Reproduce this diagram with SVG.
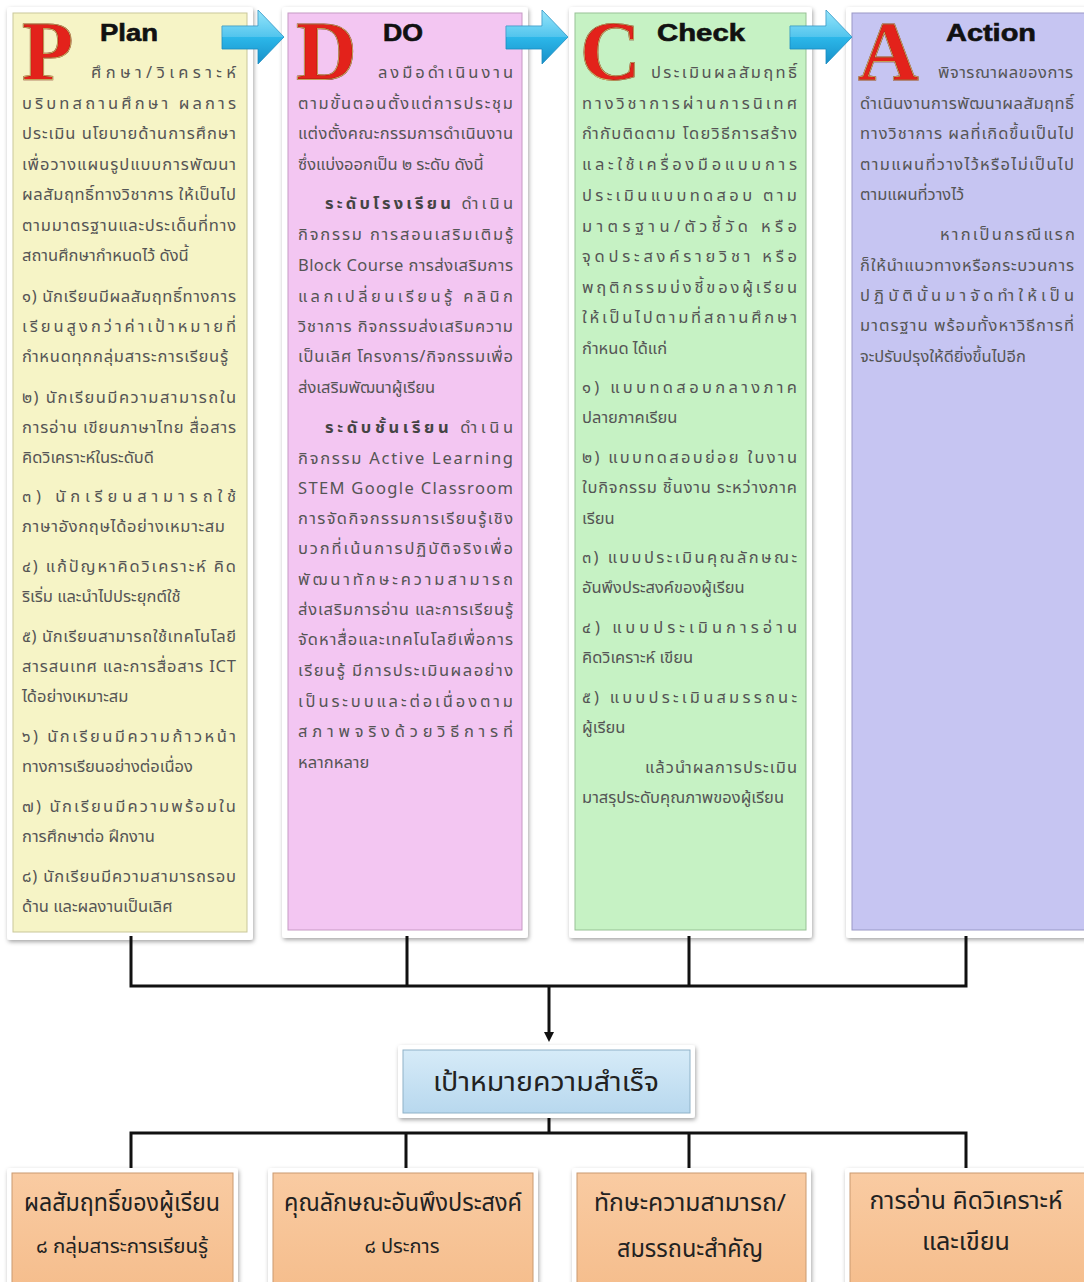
<svg xmlns="http://www.w3.org/2000/svg" width="1084" height="1282" viewBox="0 0 1084 1282">
<defs>
<style>
.t{font-family:"Noto Sans Thai","Noto Sans","DejaVu Sans",sans-serif;font-size:16.5px;fill:#555}
.b{font-weight:bold;fill:#444}
.hd{font-family:"Liberation Sans",Arial,sans-serif;font-weight:900;font-size:23px;fill:#111;stroke:#111;stroke-width:0.6}
.big{font-family:"Liberation Serif","Times New Roman",serif;font-size:84px;font-weight:bold;fill:#e3221b;stroke:#7a1410;stroke-width:1.2}
.bigl{font-family:"Liberation Serif","Times New Roman",serif;font-size:84px;font-weight:bold;fill:none;stroke:#d8c870;stroke-width:0.7}
.g{font-family:"Noto Sans Thai","Noto Sans","DejaVu Sans",sans-serif;fill:#222;text-anchor:middle}
.frame{fill:#fff;filter:url(#sh)}
.con{stroke:#111;stroke-width:3;fill:none}
</style>
<filter id="sh" x="-10%" y="-10%" width="120%" height="120%">
<feDropShadow dx="1" dy="2" stdDeviation="2" flood-color="#000" flood-opacity="0.35"/>
</filter>
<linearGradient id="arr" x1="0" y1="0" x2="0" y2="1">
<stop offset="0" stop-color="#7fe0fa"/><stop offset="0.5" stop-color="#2cb8ea"/><stop offset="1" stop-color="#1890c8"/>
</linearGradient>
<linearGradient id="goal" x1="0" y1="0" x2="0" y2="1">
<stop offset="0" stop-color="#d6ebf8"/><stop offset="1" stop-color="#b8d8ee"/>
</linearGradient>
<linearGradient id="peach" x1="0" y1="0" x2="0" y2="1">
<stop offset="0" stop-color="#f9cba2"/><stop offset="1" stop-color="#f5bd8c"/>
</linearGradient>
<radialGradient id="swoosh" cx="0.5" cy="0.2" r="0.6">
<stop offset="0.6" stop-color="#444"/><stop offset="1" stop-color="#ddd" stop-opacity="0"/>
</radialGradient>
<marker id="ah" markerWidth="10" markerHeight="10" refX="5" refY="5" orient="auto" markerUnits="userSpaceOnUse">
<path d="M0,0 L10,5 L0,10 z" fill="#111"/>
</marker>
<g id="arrowshape">
<path d="M0,26 L36,26 L36,10 L62,37 L36,64 L36,49 L0,49 z" fill="url(#arr)" stroke="#1a8cc0" stroke-width="0.8"/>
<path d="M0,26 L36,26 L36,10 L62,37 L0,37 z" fill="#fff" opacity="0.18"/>
</g>
</defs>
<rect width="1084" height="1282" fill="#fff"/>
<ellipse cx="945" cy="-14" rx="80" ry="22" fill="url(#swoosh)"/>

<g id="plan">
<rect class="frame" x="7" y="7" width="246" height="933" rx="3"/>
<rect x="13" y="13" width="234" height="919" fill="#f6f4c6" stroke="#c9c79a" stroke-width="1"/>
<text class="big" x="22" y="80">P</text>
<text class="bigl" x="22" y="80">P</text>
<text class="hd" x="100" y="41" textLength="58" lengthAdjust="spacingAndGlyphs">Plan</text>
<text class="t" x="91" y="78" textLength="145" lengthAdjust="spacing">ศึกษา/วิเคราะห์</text>
<text class="t" x="22" y="109" textLength="214" lengthAdjust="spacing">บริบทสถานศึกษา ผลการ</text>
<text class="t" x="22" y="139" textLength="214" lengthAdjust="spacing">ประเมิน นโยบายด้านการศึกษา</text>
<text class="t" x="22" y="170" textLength="214" lengthAdjust="spacing">เพื่อวางแผนรูปแบบการพัฒนา</text>
<text class="t" x="22" y="200" textLength="214" lengthAdjust="spacing">ผลสัมฤทธิ์ทางวิชาการ ให้เป็นไป</text>
<text class="t" x="22" y="231" textLength="214" lengthAdjust="spacing">ตามมาตรฐานและประเด็นที่ทาง</text>
<text class="t" x="22" y="261">สถานศึกษากำหนดไว้ ดังนี้</text>
<text class="t" x="22" y="302" textLength="214" lengthAdjust="spacing">๑) นักเรียนมีผลสัมฤทธิ์ทางการ</text>
<text class="t" x="22" y="332" textLength="214" lengthAdjust="spacing">เรียนสูงกว่าค่าเป้าหมายที่</text>
<text class="t" x="22" y="362" textLength="206" lengthAdjust="spacing">กำหนดทุกกลุ่มสาระการเรียนรู้</text>
<text class="t" x="22" y="403" textLength="214" lengthAdjust="spacing">๒) นักเรียนมีความสามารถใน</text>
<text class="t" x="22" y="433" textLength="214" lengthAdjust="spacing">การอ่าน เขียนภาษาไทย สื่อสาร</text>
<text class="t" x="22" y="463">คิดวิเคราะห์ในระดับดี</text>
<text class="t" x="22" y="502" textLength="214" lengthAdjust="spacing">๓) นักเรียนสามารถใช้</text>
<text class="t" x="22" y="532" textLength="203" lengthAdjust="spacing">ภาษาอังกฤษได้อย่างเหมาะสม</text>
<text class="t" x="22" y="572" textLength="214" lengthAdjust="spacing">๔) แก้ปัญหาคิดวิเคราะห์ คิด</text>
<text class="t" x="22" y="602">ริเริ่ม และนำไปประยุกต์ใช้</text>
<text class="t" x="22" y="642" textLength="214" lengthAdjust="spacing">๕) นักเรียนสามารถใช้เทคโนโลยี</text>
<text class="t" x="22" y="672" textLength="214" lengthAdjust="spacing">สารสนเทศ และการสื่อสาร ICT</text>
<text class="t" x="22" y="702">ได้อย่างเหมาะสม</text>
<text class="t" x="22" y="742" textLength="214" lengthAdjust="spacing">๖) นักเรียนมีความก้าวหน้า</text>
<text class="t" x="22" y="772">ทางการเรียนอย่างต่อเนื่อง</text>
<text class="t" x="22" y="812" textLength="214" lengthAdjust="spacing">๗) นักเรียนมีความพร้อมใน</text>
<text class="t" x="22" y="842">การศึกษาต่อ ฝึกงาน</text>
<text class="t" x="22" y="882" textLength="214" lengthAdjust="spacing">๘) นักเรียนมีความสามารถรอบ</text>
<text class="t" x="22" y="912">ด้าน และผลงานเป็นเลิศ</text>
</g>

<g id="do">
<rect class="frame" x="282" y="7" width="246" height="931" rx="3"/>
<rect x="288" y="13" width="234" height="917" fill="#f3c6f2" stroke="#c69ac4" stroke-width="1"/>
<text class="big" x="296" y="80">D</text>
<text class="bigl" x="296" y="80">D</text>
<text class="hd" x="383" y="41" textLength="40" lengthAdjust="spacingAndGlyphs">DO</text>
<text class="t" x="378" y="78" textLength="135" lengthAdjust="spacing">ลงมือดำเนินงาน</text>
<text class="t" x="298" y="109" textLength="215" lengthAdjust="spacing">ตามขั้นตอนตั้งแต่การประชุม</text>
<text class="t" x="298" y="139" textLength="215" lengthAdjust="spacing">แต่งตั้งคณะกรรมการดำเนินงาน</text>
<text class="t" x="298" y="170">ซึ่งแบ่งออกเป็น  ๒ ระดับ ดังนี้</text>
<text class="t" x="325" y="209" textLength="188" lengthAdjust="spacing"><tspan class="b">ระดับโรงเรียน</tspan> ดำเนิน</text>
<text class="t" x="298" y="240" textLength="215" lengthAdjust="spacing">กิจกรรม การสอนเสริมเติมรู้</text>
<text class="t" x="298" y="271" textLength="215" lengthAdjust="spacing">Block Course การส่งเสริมการ</text>
<text class="t" x="298" y="302" textLength="215" lengthAdjust="spacing">แลกเปลี่ยนเรียนรู้ คลินิก</text>
<text class="t" x="298" y="332" textLength="215" lengthAdjust="spacing">วิชาการ กิจกรรมส่งเสริมความ</text>
<text class="t" x="298" y="362" textLength="215" lengthAdjust="spacing">เป็นเลิศ โครงการ/กิจกรรมเพื่อ</text>
<text class="t" x="298" y="393">ส่งเสริมพัฒนาผู้เรียน</text>
<text class="t" x="325" y="433" textLength="188" lengthAdjust="spacing"><tspan class="b">ระดับชั้นเรียน</tspan> ดำเนิน</text>
<text class="t" x="298" y="464" textLength="215" lengthAdjust="spacing">กิจกรรม Active  Learning</text>
<text class="t" x="298" y="494" textLength="215" lengthAdjust="spacing">STEM  Google  Classroom</text>
<text class="t" x="298" y="524" textLength="215" lengthAdjust="spacing">การจัดกิจกรรมการเรียนรู้เชิง</text>
<text class="t" x="298" y="554" textLength="215" lengthAdjust="spacing">บวกที่เน้นการปฏิบัติจริงเพื่อ</text>
<text class="t" x="298" y="585" textLength="215" lengthAdjust="spacing">พัฒนาทักษะความสามารถ</text>
<text class="t" x="298" y="615" textLength="215" lengthAdjust="spacing">ส่งเสริมการอ่าน และการเรียนรู้</text>
<text class="t" x="298" y="645" textLength="215" lengthAdjust="spacing">จัดหาสื่อและเทคโนโลยีเพื่อการ</text>
<text class="t" x="298" y="676" textLength="215" lengthAdjust="spacing">เรียนรู้ มีการประเมินผลอย่าง</text>
<text class="t" x="298" y="707" textLength="215" lengthAdjust="spacing">เป็นระบบและต่อเนื่องตาม</text>
<text class="t" x="298" y="737" textLength="215" lengthAdjust="spacing">สภาพจริงด้วยวิธีการที่</text>
<text class="t" x="298" y="768">หลากหลาย</text>
</g>

<g id="check">
<rect class="frame" x="569" y="7" width="243" height="931" rx="3"/>
<rect x="575" y="13" width="231" height="917" fill="#c6f2c4" stroke="#97c195" stroke-width="1"/>
<text class="big" x="580" y="80">C</text>
<text class="bigl" x="580" y="80">C</text>
<text class="hd" x="657" y="41" textLength="88" lengthAdjust="spacingAndGlyphs">Check</text>
<text class="t" x="651" y="78" textLength="146" lengthAdjust="spacing">ประเมินผลสัมฤทธิ์</text>
<text class="t" x="582" y="109" textLength="215" lengthAdjust="spacing">ทางวิชาการผ่านการนิเทศ</text>
<text class="t" x="582" y="139" textLength="215" lengthAdjust="spacing">กำกับติดตาม โดยวิธีการสร้าง</text>
<text class="t" x="582" y="170" textLength="215" lengthAdjust="spacing">และใช้เครื่องมือแบบการ</text>
<text class="t" x="582" y="201" textLength="215" lengthAdjust="spacing">ประเมินแบบทดสอบ ตาม</text>
<text class="t" x="582" y="232" textLength="215" lengthAdjust="spacing">มาตรฐาน/ตัวชี้วัด หรือ</text>
<text class="t" x="582" y="262" textLength="215" lengthAdjust="spacing">จุดประสงค์รายวิชา หรือ</text>
<text class="t" x="582" y="293" textLength="215" lengthAdjust="spacing">พฤติกรรมบ่งชี้ของผู้เรียน</text>
<text class="t" x="582" y="323" textLength="215" lengthAdjust="spacing">ให้เป็นไปตามที่สถานศึกษา</text>
<text class="t" x="582" y="354">กำหนด ได้แก่</text>
<text class="t" x="582" y="393" textLength="215" lengthAdjust="spacing">๑) แบบทดสอบกลางภาค</text>
<text class="t" x="582" y="423">ปลายภาคเรียน</text>
<text class="t" x="582" y="463" textLength="215" lengthAdjust="spacing">๒) แบบทดสอบย่อย ใบงาน</text>
<text class="t" x="582" y="493" textLength="215" lengthAdjust="spacing">ใบกิจกรรม ชิ้นงาน ระหว่างภาค</text>
<text class="t" x="582" y="524">เรียน</text>
<text class="t" x="582" y="563" textLength="215" lengthAdjust="spacing">๓) แบบประเมินคุณลักษณะ</text>
<text class="t" x="582" y="593">อันพึงประสงค์ของผู้เรียน</text>
<text class="t" x="582" y="633" textLength="215" lengthAdjust="spacing">๔) แบบประเมินการอ่าน</text>
<text class="t" x="582" y="663">คิดวิเคราะห์ เขียน</text>
<text class="t" x="582" y="703" textLength="215" lengthAdjust="spacing">๕) แบบประเมินสมรรถนะ</text>
<text class="t" x="582" y="733">ผู้เรียน</text>
<text class="t" x="645" y="773" textLength="152" lengthAdjust="spacing">แล้วนำผลการประเมิน</text>
<text class="t" x="582" y="803">มาสรุประดับคุณภาพของผู้เรียน</text>
</g>

<g id="action">
<rect class="frame" x="846" y="7" width="246" height="931" rx="3"/>
<rect x="852" y="13" width="240" height="917" fill="#c6c5f2" stroke="#9998c6" stroke-width="1"/>
<text class="big" x="858" y="80">A</text>
<text class="bigl" x="858" y="80">A</text>
<text class="hd" x="946" y="41" textLength="90" lengthAdjust="spacingAndGlyphs">Action</text>
<text class="t" x="938" y="78" textLength="135" lengthAdjust="spacing">พิจารณาผลของการ</text>
<text class="t" x="860" y="109" textLength="214" lengthAdjust="spacing">ดำเนินงานการพัฒนาผลสัมฤทธิ์</text>
<text class="t" x="860" y="139" textLength="214" lengthAdjust="spacing">ทางวิชาการ ผลที่เกิดขึ้นเป็นไป</text>
<text class="t" x="860" y="170" textLength="214" lengthAdjust="spacing">ตามแผนที่วางไว้หรือไม่เป็นไป</text>
<text class="t" x="860" y="200">ตามแผนที่วางไว้</text>
<text class="t" x="940" y="240" textLength="135" lengthAdjust="spacing">หากเป็นกรณีแรก</text>
<text class="t" x="860" y="271" textLength="214" lengthAdjust="spacing">ก็ให้นำแนวทางหรือกระบวนการ</text>
<text class="t" x="860" y="301" textLength="214" lengthAdjust="spacing">ปฏิบัตินั้นมาจัดทำให้เป็น</text>
<text class="t" x="860" y="331" textLength="214" lengthAdjust="spacing">มาตรฐาน พร้อมทั้งหาวิธีการที่</text>
<text class="t" x="860" y="362">จะปรับปรุงให้ดียิ่งขึ้นไปอีก</text>
</g>

<g id="flow-arrows">
<use href="#arrowshape" x="222" y="0"/>
<use href="#arrowshape" x="506" y="0"/>
<use href="#arrowshape" x="790" y="0"/>
</g>

<g id="connectors">
<path class="con" d="M131,936 V986 M407,936 V986 M689,936 V986 M966,936 V986 M129.5,986 H967.5"/>
<path class="con" d="M549,986 V1037" marker-end="url(#ah)"/>
<path class="con" d="M549,1112 V1133 M129.5,1133 H967.5 M131,1133 V1173 M406,1133 V1173 M689,1133 V1173 M966,1133 V1173"/>
</g>

<g id="goal">
<rect class="frame" x="398" y="1045" width="297" height="73" rx="3"/>
<rect x="403" y="1050" width="287" height="63" fill="url(#goal)" stroke="#8fb2c8" stroke-width="1"/>
<text class="g" x="546" y="1091" font-size="26" textLength="226" lengthAdjust="spacingAndGlyphs">เป้าหมายความสำเร็จ</text>
</g>

<g id="b1">
<rect class="frame" x="7" y="1168" width="231" height="125" rx="3"/>
<rect x="12" y="1173" width="221" height="120" fill="url(#peach)" stroke="#c99a70" stroke-width="1"/>
<text class="g" x="122" y="1211" font-size="24" textLength="196" lengthAdjust="spacingAndGlyphs">ผลสัมฤทธิ์ของผู้เรียน</text>
<text class="g" x="122" y="1253" font-size="20" textLength="172" lengthAdjust="spacingAndGlyphs">๘ กลุ่มสาระการเรียนรู้</text>
</g>
<g id="b2">
<rect class="frame" x="268" y="1168" width="270" height="125" rx="3"/>
<rect x="273" y="1173" width="260" height="120" fill="url(#peach)" stroke="#c99a70" stroke-width="1"/>
<text class="g" x="403" y="1211" font-size="24" textLength="238" lengthAdjust="spacingAndGlyphs">คุณลักษณะอันพึงประสงค์</text>
<text class="g" x="402" y="1253" font-size="20">๘ ประการ</text>
</g>
<g id="b3">
<rect class="frame" x="572" y="1168" width="239" height="125" rx="3"/>
<rect x="577" y="1173" width="229" height="120" fill="url(#peach)" stroke="#c99a70" stroke-width="1"/>
<text class="g" x="690" y="1211" font-size="24" textLength="192" lengthAdjust="spacingAndGlyphs">ทักษะความสามารถ/</text>
<text class="g" x="690" y="1257" font-size="24" textLength="146" lengthAdjust="spacingAndGlyphs">สมรรถนะสำคัญ</text>
</g>
<g id="b4">
<rect class="frame" x="845" y="1168" width="250" height="125" rx="3"/>
<rect x="850" y="1173" width="240" height="120" fill="url(#peach)" stroke="#c99a70" stroke-width="1"/>
<text class="g" x="966" y="1209" font-size="24" textLength="193" lengthAdjust="spacingAndGlyphs">การอ่าน คิดวิเคราะห์</text>
<text class="g" x="966" y="1250" font-size="24" textLength="88" lengthAdjust="spacingAndGlyphs">และเขียน</text>
</g>
</svg>
